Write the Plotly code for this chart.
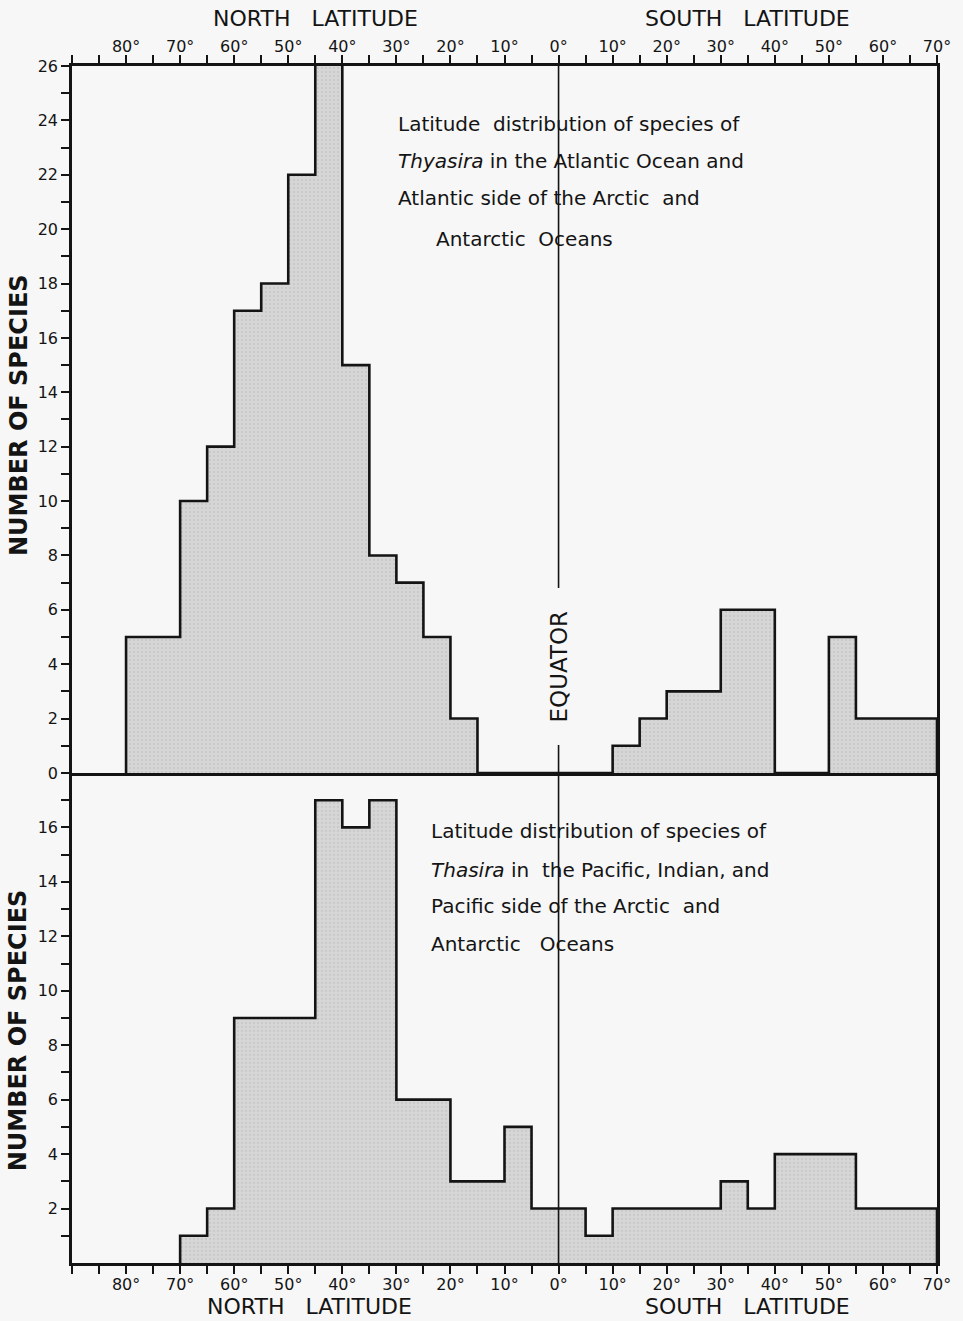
import plotly.graph_objects as go

# Latitude in degrees: north is negative (left), south positive (right).
BIN_WIDTH = 5

# Atlantic / Atlantic side of Arctic & Antarctic (Thyasira)
atl_bin_start = [-80, -75, -70, -65, -60, -55, -50, -45, -40, -35, -30, -25, -20, -15,
                 -10, -5, 0, 5, 10, 15, 20, 25, 30, 35, 40, 45, 50, 55, 60, 65]
atl_counts = [5, 5, 10, 12, 17, 18, 22, 28, 15, 8, 7, 5, 2, 0,
              0, 0, 0, 0, 1, 2, 3, 3, 6, 6, 0, 0, 5, 2, 2, 2]

# Pacific, Indian / Pacific side of Arctic & Antarctic (Thasira)
pac_bin_start = [-70, -65, -60, -55, -50, -45, -40, -35, -30, -25, -20, -15, -10, -5,
                 0, 5, 10, 15, 20, 25, 30, 35, 40, 45, 50, 55, 60, 65]
pac_counts = [1, 2, 9, 9, 9, 17, 16, 17, 6, 6, 3, 3, 5, 2,
              2, 1, 2, 2, 2, 2, 3, 2, 4, 4, 4, 2, 2, 2]

lat_ticks = list(range(-90, 71, 5))
lat_labels = ["" if (v % 10 or v == -90) else f"{abs(v)}°" for v in lat_ticks]

top_yticks = list(range(0, 27))
top_ylabels = [str(v) if v % 2 == 0 else "" for v in top_yticks]
bot_yticks = list(range(1, 18))
bot_ylabels = [str(v) if (v % 2 == 0) else "" for v in bot_yticks]

PAPER = "#f7f7f7"
INK = "#141414"
FONT = "DejaVu Sans"


def step_xy(starts, counts):
    xs = [starts[0]] + list(starts) + [starts[-1] + BIN_WIDTH, starts[-1] + BIN_WIDTH]
    ys = [0] + list(counts) + [counts[-1], 0]
    return xs, ys


fig = go.Figure()
pattern = dict(shape=".", bgcolor="#d6d6d6", fgcolor="#959595", size=4, solidity=0.12)

for starts, counts, xa, ya in [(atl_bin_start, atl_counts, "x", "y"),
                               (pac_bin_start, pac_counts, "x2", "y2")]:
    xs, ys = step_xy(starts, counts)
    fig.add_trace(go.Scatter(
        x=xs, y=ys, mode="lines", line=dict(shape="hv", color=INK, width=2.6),
        fill="tozeroy", fillcolor="#d6d6d6", fillpattern=pattern,
        xaxis=xa, yaxis=ya, showlegend=False, hoverinfo="skip"))

split = 0.4094
axis_common = dict(showline=True, linecolor=INK, linewidth=2.6, ticks="outside",
                   ticklen=8, tickwidth=2, tickcolor=INK, showgrid=False, zeroline=False,
                   tickfont=dict(family=FONT, size=16, color=INK))

fig.update_layout(
    width=963, height=1321,
    margin=dict(l=72, r=22, t=66, b=58),
    paper_bgcolor=PAPER, plot_bgcolor=PAPER,
    xaxis=dict(axis_common, domain=[0, 1], range=[-90, 70], side="top", anchor="y",
               tickvals=lat_ticks, ticktext=lat_labels, mirror=True,
               ticklabelstandoff=-3),
    xaxis2=dict(axis_common, domain=[0, 1], range=[-90, 70], side="bottom", anchor="y2",
                tickvals=lat_ticks, ticktext=lat_labels, matches="x",
                ticklabelstandoff=-3),
    yaxis=dict(axis_common, domain=[split, 1], range=[0, 26], anchor="x",
               tickvals=top_yticks, ticktext=top_ylabels, mirror=True),
    yaxis2=dict(axis_common, domain=[0, split], range=[0, 18], anchor="x2",
                tickvals=bot_yticks, ticktext=bot_ylabels, mirror=True),
)

# Equator line through both panels
fig.add_shape(type="line", xref="x", yref="paper", x0=0, x1=0, y0=0, y1=1,
              line=dict(color=INK, width=1.6))

ann_font = dict(family=FONT, size=20, color=INK)
head_font = dict(family=FONT, size=22, color=INK)

# Latitude headers above and below
for txt, xv, yv, anchor in [("NORTH   LATITUDE", -45, 1.0515, "top"),
                            ("SOUTH   LATITUDE", 35, 1.0515, "top"),
                            ("NORTH   LATITUDE", -46, -0.0485, "bottom"),
                            ("SOUTH   LATITUDE", 35, -0.0485, "bottom")]:
    fig.add_annotation(text=txt, x=xv, y=yv, xref="x", yref="paper", showarrow=False,
                       xanchor="center", yanchor=anchor, font=head_font)

# Y-axis titles
for yc in [(split + 1) / 2 + 0.004, split / 2 - 0.01]:
    fig.add_annotation(text="NUMBER OF SPECIES", x=-0.062, y=yc, xref="paper", yref="paper",
                       showarrow=False, textangle=-90, xanchor="center", yanchor="middle",
                       font=dict(family=FONT, size=24, color=INK, weight="bold"))

fig.add_annotation(text="EQUATOR", x=0, y=3.9, xref="x", yref="y", showarrow=False,
                   textangle=-90, font=dict(family=FONT, size=23, color=INK),
                   bgcolor=PAPER, borderpad=22)

top_lines = [
    ("Latitude  distribution of species of", -30, 23.85),
    ("<i>Thyasira</i> in the Atlantic Ocean and", -30, 22.5),
    ("Atlantic side of the Arctic  and", -30, 21.15),
    ("Antarctic  Oceans", -23, 19.65),
]
for txt, xv, yv in top_lines:
    fig.add_annotation(text=txt, x=xv, y=yv, xref="x", yref="y", showarrow=False,
                       xanchor="left", yanchor="middle", font=ann_font)

bot_lines = [
    ("Latitude distribution of species of", -24, 15.85),
    ("<i>Thasira</i> in  the Pacific, Indian, and", -24, 14.45),
    ("Pacific side of the Arctic  and", -24, 13.1),
    ("Antarctic   Oceans", -24, 11.7),
]
for txt, xv, yv in bot_lines:
    fig.add_annotation(text=txt, x=xv, y=yv, xref="x2", yref="y2", showarrow=False,
                       xanchor="left", yanchor="middle", font=ann_font)

fig.write_html("out.html")
